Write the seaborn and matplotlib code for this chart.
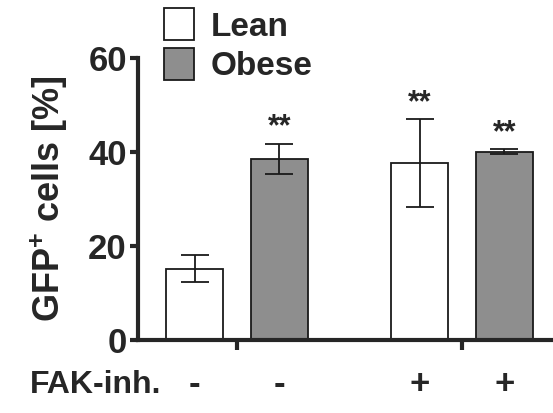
import numpy as np
import pandas as pd
import matplotlib
matplotlib.use("Agg")
import matplotlib.pyplot as plt
import seaborn as sns

# =========================
# DATA
# =========================
groups = ["FAK-", "FAK+"]
diets = ["Lean", "Obese"]
means = [15.2, 38.6, 37.7, 40.1]   # Lean-, Obese-, Lean+, Obese+
sems = [2.9, 3.2, 9.3, 0.6]
stars = ["", "**", "**", "**"]
fak_labels = ["-", "-", "+", "+"]

df = pd.DataFrame({
    "group": [g for g in groups for _ in diets],
    "diet": diets * len(groups),
    "value": means,
})

# =========================
# STYLE
# =========================
sns.set_style("ticks")
plt.rcParams["font.family"] = ["Liberation Sans", "DejaVu Sans"]
plt.rcParams["font.weight"] = "bold"
plt.rcParams["mathtext.fontset"] = "custom"
plt.rcParams["mathtext.rm"] = "Liberation Sans:bold"
plt.rcParams["mathtext.it"] = "Liberation Sans:bold"
plt.rcParams["mathtext.bf"] = "Liberation Sans:bold"

palette = {"Lean": "white", "Obese": "#8e8e8e"}
edge = "#1a1a1a"

fig = plt.figure(figsize=(5.53, 4.13), dpi=100)
ax = fig.add_axes([0.2495, 0.1768, 0.7505, 0.6828])

sns.barplot(data=df, x="group", y="value", hue="diet", order=groups,
            hue_order=diets, palette=palette, width=0.754, gap=0.33,
            edgecolor=edge, linewidth=1.3, errorbar=None, ax=ax)

# error bars + stars from bar geometry
bars = sorted([b for b in ax.patches if b.get_height() > 0], key=lambda p: p.get_x())
centers = [b.get_x() + b.get_width() / 2 for b in bars]
for cx, m, s, st in zip(centers, means, sems, stars):
    ax.errorbar(cx, m, yerr=s, fmt="none", ecolor=edge,
                elinewidth=1.3, capsize=10, capthick=1.3)
    if st:
        ax.text(cx, m + s + 0.2, st, ha="center", va="bottom",
                fontsize=22, fontweight="bold")

ax.set_ylim(0, 60)
ax.set_xlim(-0.44, 1.404)
ax.set_yticks([0, 20, 40, 60])
ax.set_xticks([0, 1])
ax.set_xticklabels([])
ax.set_xlabel("")
ax.set_ylabel(r"GFP$^{+}$ cells [%]", fontsize=26, fontweight="bold", labelpad=13)
ax.tick_params(axis="y", labelsize=25, width=3, length=6, pad=2)
ax.tick_params(axis="x", width=3, length=7)
for lab in ax.get_yticklabels():
    lab.set_fontweight("bold")

for side in ["top", "right"]:
    ax.spines[side].set_visible(False)
for side in ["left", "bottom"]:
    ax.spines[side].set_linewidth(3)

# FAK-inh. row
fig.text(30 / 553, 0.068, "FAK-inh.", ha="left", va="center",
         fontsize=23, fontweight="bold")
for cx, lab in zip(centers, fak_labels):
    x_fig = fig.transFigure.inverted().transform(ax.transData.transform((cx, 0)))[0]
    fig.text(x_fig, 0.068, lab, ha="center", va="center",
             fontsize=25, fontweight="bold")

# legend
handles, labels = ax.get_legend_handles_labels()
leg = ax.legend(handles, labels, loc="upper left",
                bbox_to_anchor=(156 / 553, 1.0), bbox_transform=fig.transFigure,
                frameon=False, fontsize=24, handlelength=0.88, handleheight=1.1,
                handletextpad=0.5, labelspacing=0.15, borderaxespad=0.15,
                borderpad=0.1)
for t in leg.get_texts():
    t.set_fontweight("bold")
for h in leg.legend_handles:
    h.set_edgecolor(edge)
    h.set_linewidth(1.3)

fig.savefig("out.png", dpi=100)
